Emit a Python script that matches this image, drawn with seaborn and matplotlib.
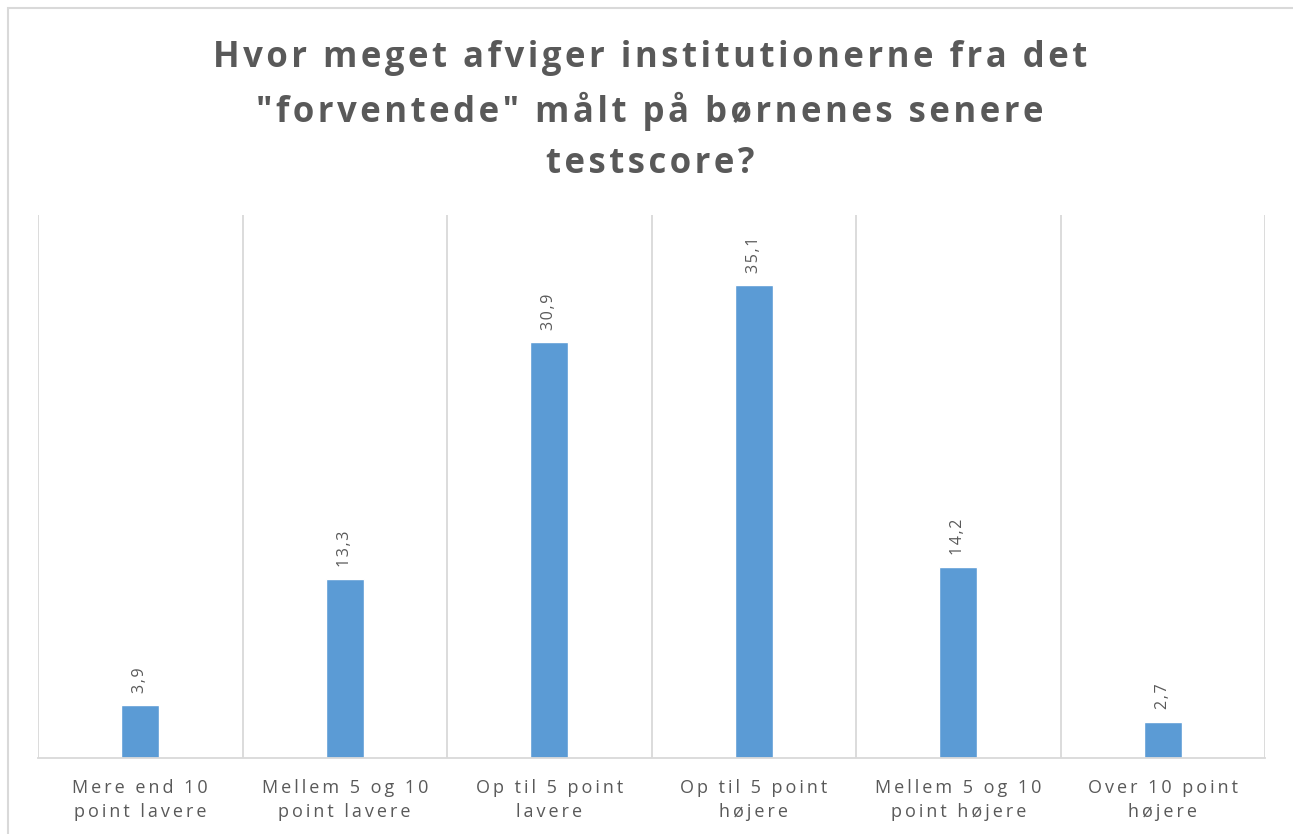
import matplotlib
matplotlib.use("Agg")
import matplotlib.pyplot as plt
import pandas as pd
import seaborn as sns
from matplotlib.patches import Rectangle

categories = ["Mere end 10\npoint lavere", "Mellem 5 og 10\npoint lavere", "Op til 5 point\nlavere",
              "Op til 5 point\nhøjere", "Mellem 5 og 10\npoint højere", "Over 10 point\nhøjere"]
values = [3.9, 13.3, 30.9, 35.1, 14.2, 2.7]
title = 'Hvor meget afviger institutionerne fra det\n"forventede" målt på børnenes senere\ntestscore?'

BAR = "#5b9bd5"
TXT = "#595959"
GRID = "#d9d9d9"

sns.set_theme(style="white")
plt.rcParams['font.family'] = ['Open Sans', 'DejaVu Sans']


def spaced(s, sep="\u200a"):
    # crude letter spacing: narrow space between characters
    return "\n".join(sep.join(line) for line in s.split("\n"))


df = pd.DataFrame({"kategori": categories, "andel": values})

fig = plt.figure(figsize=(12.93, 8.34), dpi=100)
ax = fig.add_axes([38 / 1293, 76 / 834, 1227 / 1293, 543 / 834])

sns.barplot(data=df, x="kategori", y="andel", color=BAR, width=0.185, saturation=1, ax=ax)

ax.set_ylim(0, 40.3)
ax.set_xlim(-0.5, len(categories) - 0.5)
ax.set_yticks([])
ax.set_xlabel("")
ax.set_ylabel("")

# vertical separators between categories
for b in range(len(categories) + 1):
    ax.axvline(b - 0.5, color=GRID, lw=1.3, zorder=0)

for s in ["top", "left", "right"]:
    ax.spines[s].set_visible(False)
ax.spines["bottom"].set_color(GRID)
ax.spines["bottom"].set_linewidth(1.3)

ax.tick_params(axis="x", length=0, pad=15)
ax.set_xticks(range(len(categories)))
ax.set_xticklabels([spaced(c, "\u2009") for c in categories], fontsize=13, color=TXT, linespacing=1.45)

for i, v in enumerate(values):
    ax.text(i, v + 0.9, spaced(f"{v:.1f}".replace(".", ",")), rotation=90, ha="center", va="bottom",
            fontsize=11.5, color=TXT)

fig.text(650 / 1293, 1 - 111 / 834, spaced(title), ha="center", va="center", fontsize=25,
         fontweight="bold", color=TXT, linespacing=1.55)

# outer chart frame (cropped at right/bottom)
fig.patches.append(Rectangle((8 / 1293, -0.05), 1.1, 1 - 8 / 834 + 0.05, transform=fig.transFigure,
                             fill=False, edgecolor=GRID, lw=1.5))

fig.savefig("out.png", dpi=100)
